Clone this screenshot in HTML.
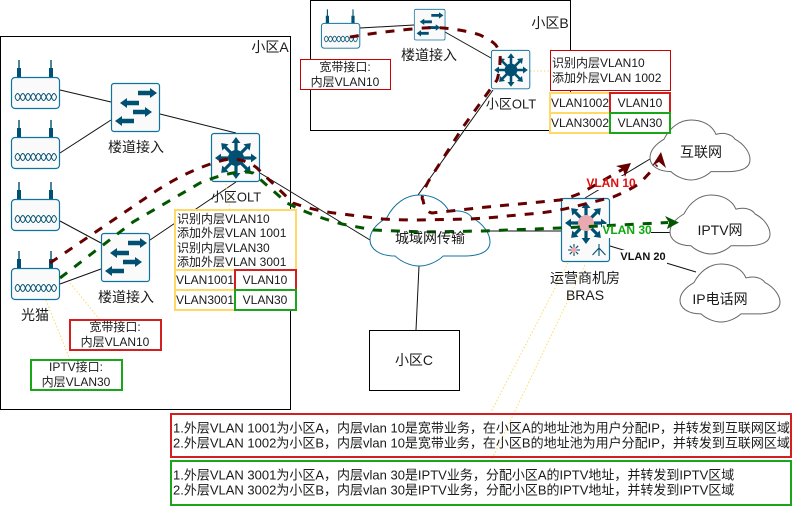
<!DOCTYPE html>
<html><head><meta charset="utf-8"><style>
html,body{margin:0;padding:0;background:#fff}
svg{display:block}
text{font-family:"Liberation Sans","Noto Sans CJK SC",sans-serif;font-size:12px;fill:#1a1a1a}
.c{text-anchor:middle;dominant-baseline:central}
.l{text-anchor:start;dominant-baseline:central}
.b{font-weight:bold}
.m{font-size:14px}
.o{font-size:13px}
</style></head><body>
<svg width="792" height="506" viewBox="0 0 792 506" xmlns="http://www.w3.org/2000/svg">
<defs>
<path id="ar" d="M0-1.6H15V-4.4L21 0 15 4.4V1.6H0Z" fill="#005073"/>
<path id="hr" d="M0-2.2H12V-5L19 0 12 5V2.2H0Z" fill="#005073"/>
<path id="hl" d="M19-2.2H7V-5L0 0 7 5V2.2H19Z" fill="#005073"/>
<g id="router">
<rect x=".5" y=".5" width="48" height="31" rx="3.5" fill="#fafafa" stroke="#10739e" stroke-width="1.2"/>
<path d="M8-17V0M40-17V0" stroke="#005073" stroke-width="1.4"/>
<path d="M8-9V0M40-9V0" stroke="#005073" stroke-width="4"/>
<path d="M4 20q2.6-7 5.2 0t5.2 0 5.2 0 5.2 0 5.2 0 5.2 0 5.2 0 5.2 0M4 20q2.6 7 5.2 0t5.2 0 5.2 0 5.2 0 5.2 0 5.2 0 5.2 0 5.2 0" fill="none" stroke="#005073" stroke-width="1"/>
</g>
<g id="switch">
<rect x=".5" y=".5" width="48" height="48" rx="2.5" fill="#fafafa" stroke="#10739e" stroke-width="1.2"/>
<use href="#hr" transform="translate(27 10)"/>
<use href="#hl" transform="translate(9 20)"/>
<use href="#hr" transform="translate(22 29)"/>
<use href="#hl" transform="translate(4 38)"/>
</g>
<g id="star">
<use href="#ar" transform="translate(25 25)"/>
<use href="#ar" transform="translate(25 25) rotate(45)"/>
<use href="#ar" transform="translate(25 25) rotate(90)"/>
<use href="#ar" transform="translate(25 25) rotate(135)"/>
<use href="#ar" transform="translate(25 25) rotate(180)"/>
<use href="#ar" transform="translate(25 25) rotate(225)"/>
<use href="#ar" transform="translate(25 25) rotate(270)"/>
<use href="#ar" transform="translate(25 25) rotate(315)"/>
</g>
<g id="olt">
<rect x=".5" y=".5" width="48" height="48" rx="2.5" fill="#fafafa" stroke="#10739e" stroke-width="1.2"/>
<use href="#star"/>
<circle cx="25" cy="25" r="8" fill="#005073"/>
</g>
<symbol id="cloud" viewBox="0 0 100 100" preserveAspectRatio="none" overflow="visible">
<path vector-effect="non-scaling-stroke" d="M14 32C20 12 30 0 41 0 52 0 62 8 66 24 74 20 82 24 85 32 94 40 100 54 100 66 100 78 94 85 80 86 72 86 66 86 61 86 56 94 48 100 41 100 34 100 26 94 21 86 8 86 0 76 0 63 0 50 6 40 14 32Z"/>
</symbol>
</defs>

<!-- zone boxes -->
<rect x=".5" y="36.5" width="290" height="373" fill="#fff" stroke="#000"/>
<rect x="310.5" y=".5" width="260" height="130" fill="#fff" stroke="#000"/>
<rect x="369.5" y="330.5" width="90" height="60" fill="#fff" stroke="#000"/>

<!-- connectors -->
<g stroke="#111" stroke-width="1" fill="none">
<path d="M60 90L111 102M60 153L111 120M160 114L236 133M60 221L101 243M60 284L101 269M150 240L236 182M260 173L370 240"/>
<path d="M360 28L414 25M445 32L491 58M493 90L418 195M419 266L416 330M490 231H561M585 198L650 159M610 232.500H670M610 246L696 272"/>
</g>

<!-- dotted -->
<g stroke="#ffd966" stroke-width="1" fill="none" stroke-dasharray="1.5 2">
<path d="M224 170L230 210M70 283L100 320M46 300L70 360M530 71H550M568 263L491 412M585 265L491 461"/>
</g>

<!-- clouds -->
<use href="#cloud" x="370" y="195" width="120" height="71" fill="#fff" stroke="#10739e" stroke-width="1"/>
<use href="#cloud" x="650" y="120" width="100" height="60" fill="#fff" stroke="#666" stroke-width="1"/>
<use href="#cloud" x="670" y="195" width="100" height="59" fill="#fff" stroke="#666" stroke-width="1"/>
<use href="#cloud" x="680" y="264" width="100" height="58" fill="#fff" stroke="#666" stroke-width="1"/>

<!-- devices -->
<use href="#router" transform="translate(11 77)"/>
<use href="#router" transform="translate(11 137)"/>
<use href="#router" transform="translate(11 199)"/>
<use href="#router" transform="translate(11 268)"/>
<use href="#router" transform="translate(321 23) scale(.8)"/>
<use href="#switch" transform="translate(111 83)"/>
<use href="#switch" transform="translate(101 233)"/>
<use href="#switch" transform="translate(414 9) scale(.64)"/>
<use href="#olt" transform="translate(211 133)"/>
<use href="#olt" transform="translate(491 50) scale(.8)"/>

<!-- BRAS -->
<g transform="translate(561 198)">
<rect x=".5" y=".5" width="48" height="63" rx="2.5" fill="#fafafa" stroke="#10739e" stroke-width="1.2"/>
<use href="#star"/>
<circle cx="25" cy="25" r="8" fill="#e8a9b0"/>
<g stroke="#005073" stroke-width="1.1" fill="none">
<path d="M13 46V58M7 52H19M8.800 47.800L17.200 56.200M17.200 47.800L8.800 56.200"/>
<path d="M38 46V58M38 50L31.500 57M38 50L44.500 57"/>
</g>
<circle cx="13" cy="52" r="3" fill="#e8a9b0"/>
</g>

<!-- labelled boxes -->
<g fill="#fff" stroke-width="2">
<rect x="175" y="210" width="121" height="60" stroke="#ffd966"/>
<rect x="175" y="270" width="60" height="20" stroke="#ffd966"/>
<rect x="175" y="290" width="60" height="20" stroke="#ffd966"/>
<rect x="235" y="270" width="61" height="20" stroke="#d31f1f"/>
<rect x="235" y="290" width="61" height="20" stroke="#1aa51a"/>
<rect x="70" y="320" width="91" height="30" stroke="#d31f1f"/>
<rect x="31" y="360" width="91" height="30" stroke="#1aa51a"/>
<rect x="550" y="93" width="60" height="20" stroke="#ffd966"/>
<rect x="550" y="113" width="60" height="20" stroke="#ffd966"/>
<rect x="610" y="93" width="60" height="20" stroke="#d31f1f"/>
<rect x="610" y="113" width="60" height="20" stroke="#1aa51a"/>
<rect x="171" y="414" width="620" height="43" fill="none" stroke="#d31f1f"/>
<rect x="171" y="461" width="620" height="44" fill="none" stroke="#1aa51a"/>
</g>
<rect x="300.500" y="59.500" width="90" height="30" fill="#fff" stroke="#c00" stroke-width="1"/>
<rect x="550.500" y="50.500" width="120" height="40" fill="#fff" stroke="#c00" stroke-width="1"/>

<!-- label backgrounds -->
<rect x="587" y="176" width="49" height="14" fill="#fff"/>
<rect x="602" y="224" width="49" height="14" fill="#fff"/>
<rect x="620" y="250" width="47" height="14" fill="#fff"/>

<!-- dashed flows -->
<g fill="none" stroke-width="3" stroke-dasharray="9 9">
<path stroke="#660000" d="M50 263L150 195Q185 171 220 161Q240 155 257 168L293 203Q315 211 342 214L383 219Q400 220 417 220L470 219Q490 218 507 216L540 213Q557 211 573 207L613 197Q630 190 640 183L657 165"/>
<path stroke="#660000" d="M350 37Q380 32 413 29Q430 27 443 28Q465 30 480 35Q495 42 497 47Q501 55 500 60Q500 70 497 80L463 127L428 182Q420 198 423 200Q425 212 432 213L487 207L540 202L560 200Q572 197 583 192L625 168"/>
<path stroke="#005700" d="M60 278L133 222L200 183Q220 175 233 173Q245 171 253 173Q270 188 287 203Q312 216 342 224L373 230L423 232L483 231L560 228L668 222.500"/>
</g>
<polygon points="616,166 631,163 625,177 623,169" fill="#660000"/>
<polygon points="652,166 661,152 666,168 659,162" fill="#660000"/>
<polygon points="665,216 679,222.500 667,229 669,222.500" fill="#005700"/>

<!-- text -->
<text class="c m" x="270" y="47">小区A</text>
<text class="c m" x="550" y="23">小区B</text>
<text class="c m" x="414" y="360">小区C</text>
<text class="c m" x="136" y="147">楼道接入</text>
<text class="c m" x="126" y="297">楼道接入</text>
<text class="c m" x="429" y="55">楼道接入</text>
<text class="c o" x="236" y="197">小区OLT</text>
<text class="c o" x="511" y="104">小区OLT</text>
<text class="c m" x="35" y="315">光猫</text>

<text class="l" x="177" y="219">识别内层VLAN10</text>
<text class="l" x="177" y="233">添加外层VLAN 1001</text>
<text class="l" x="177" y="248">识别内层VLAN30</text>
<text class="l" x="177" y="262">添加外层VLAN 3001</text>
<text class="c" x="205" y="280">VLAN1001</text>
<text class="c" x="265" y="280">VLAN10</text>
<text class="c" x="205" y="300">VLAN3001</text>
<text class="c" x="265" y="300">VLAN30</text>
<text class="c" x="115" y="327">宽带接口:</text>
<text class="c" x="115" y="342">内层VLAN10</text>
<text class="c" x="76" y="367">IPTV接口:</text>
<text class="c" x="76" y="382">内层VLAN30</text>

<text class="c" x="345" y="67">宽带接口:</text>
<text class="c" x="345" y="82">内层VLAN10</text>
<text class="l" x="552" y="63">识别内层VLAN10</text>
<text class="l" x="552" y="78">添加外层VLAN 1002</text>
<text class="c" x="580" y="103">VLAN1002</text>
<text class="c" x="640" y="103">VLAN10</text>
<text class="c" x="580" y="123">VLAN3002</text>
<text class="c" x="640" y="123">VLAN30</text>

<text class="c m" x="430" y="238">城域网传输</text>
<text class="c m" x="701" y="152">互联网</text>
<text class="c m" x="720" y="230">IPTV网</text>
<text class="c m" x="720" y="299">IP电话网</text>
<text class="c m" x="585" y="278">运营商机房</text>
<text class="c m" x="585" y="295">BRAS</text>

<text class="c b" x="611" y="183" style="fill:#e01010">VLAN 10</text>
<text class="c b" x="627" y="230" style="fill:#10a810">VLAN 30</text>
<text class="c b" x="643" y="257" style="font-size:11px;fill:#111">VLAN 20</text>

<text class="l o" x="173" y="428">1.外层VLAN 1001为小区A，内层vlan 10是宽带业务，在小区A的地址池为用户分配IP，并转发到互联网区域</text>
<text class="l o" x="173" y="443">2.外层VLAN 1002为小区B，内层vlan 10是宽带业务，在小区B的地址池为用户分配IP，并转发到互联网区域</text>
<text class="l o" x="173" y="475">1.外层VLAN 3001为小区A，内层vlan 30是IPTV业务，分配小区A的IPTV地址，并转发到IPTV区域</text>
<text class="l o" x="173" y="490">2.外层VLAN 3002为小区B，内层vlan 30是IPTV业务，分配小区B的IPTV地址，并转发到IPTV区域</text>
</svg>
</body></html>
